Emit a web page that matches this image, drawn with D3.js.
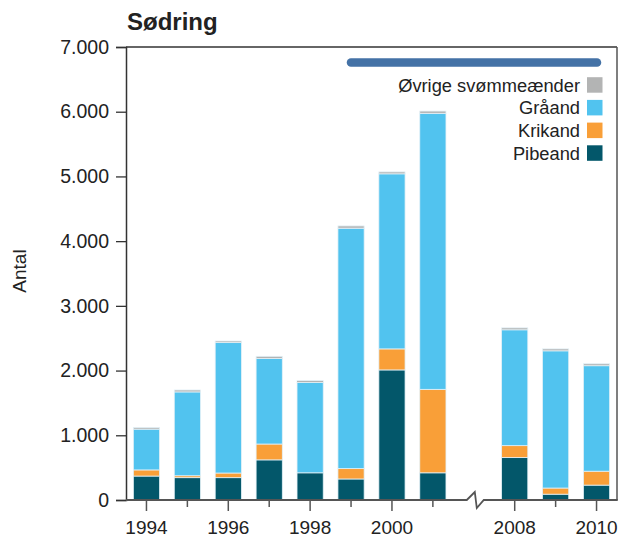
<!DOCTYPE html>
<html>
<head>
<meta charset="utf-8">
<script src="https://cdn.jsdelivr.net/npm/d3@7"></script>
<style>
  html, body { margin: 0; padding: 0; background: #fff; }
  svg { display: block; font-family: "Liberation Sans", Arial, Helvetica, sans-serif; }
</style>
</head>
<body>
<svg id="chart" width="622" height="540"></svg>
<script>
// ---- data ----
const years = ["1994","1995","1996","1997","1998","1999","2000","2001","2008","2009","2010"];
const labeledYears = ["1994","1996","1998","2000","2008","2010"];
const seriesNames = ["Pibeand","Krikand","Gråand","Øvrige svømmeænder"];
const pibeand = [370, 345, 345, 620, 420, 325, 2010, 420, 655, 90, 230];
const krikand = [95, 30, 72, 245, 0, 160, 325, 1290, 185, 95, 215];
const graaand = [630, 1295, 2015, 1320, 1395, 3715, 2705, 4265, 1790, 2120, 1630];
const oevrige = [25, 30, 25, 35, 30, 35, 30, 35, 30, 30, 30];
const yTicks = [0, 1000, 2000, 3000, 4000, 5000, 6000, 7000];
const colors = ["#03576a", "#f99f38", "#51c3ef", "#b3b4b4"];
const title = "Sødring";
const yLabel = "Antal";

// ---- layout ----
const svg = d3.select("#chart");
const mLeft = 126, mRight = 617, mTop = 47, mBottom = 500;
const slots = years.slice(0, 8).concat(["gap"]).concat(years.slice(8));

const x = d3.scaleBand().domain(slots).range([mLeft, mRight]).paddingInner(0.36).paddingOuter(0.18);
const y = d3.scaleLinear().domain([0, 7000]).range([mBottom, mTop]);

const rows = years.map((yr, i) => ({
  year: yr,
  "Pibeand": pibeand[i],
  "Krikand": krikand[i],
  "Gråand": graaand[i],
  "Øvrige svømmeænder": oevrige[i]
}));
const stacked = d3.stack().keys(seriesNames)(rows);

// bars
const g = svg.append("g");
stacked.forEach((layer, li) => {
  g.selectAll(null).data(layer).enter().append("rect")
    .attr("x", d => x(d.data.year))
    .attr("width", x.bandwidth())
    .attr("y", d => y(d[1]))
    .attr("height", d => Math.max(0, y(d[0]) - y(d[1])))
    .attr("fill", colors[li])
    .attr("stroke", "#e3f1f7")
    .attr("stroke-width", 0.8);
});

// frame: top and right
svg.append("line").attr("x1", mLeft).attr("x2", mRight).attr("y1", y(7000)).attr("y2", y(7000))
  .attr("stroke", "#333").attr("stroke-width", 1.5);
svg.append("line").attr("x1", mRight).attr("x2", mRight).attr("y1", y(7000)).attr("y2", y(0))
  .attr("stroke", "#555").attr("stroke-width", 1.5);

// y axis
const loc = d3.formatLocale({decimal: ",", thousands: ".", grouping: [3], currency: ["", " kr"]});
const fmt = loc.format(",");
const yAxis = svg.append("g").attr("transform", `translate(${mLeft},0)`)
  .call(d3.axisLeft(y).tickValues(yTicks).tickFormat(fmt).tickSize(10).tickPadding(7));
yAxis.select(".domain").attr("stroke", "#333").attr("stroke-width", 1.5);
yAxis.selectAll(".tick line").attr("stroke", "#333").attr("stroke-width", 1.3);
yAxis.selectAll(".tick text").attr("font-size", 19.5).attr("fill", "#222")
  .attr("font-family", "Liberation Sans, Arial, sans-serif");

// x axis
const xAxis = svg.append("g").attr("transform", `translate(0,${mBottom})`)
  .call(d3.axisBottom(x).tickValues(years).tickSize(11).tickPadding(10)
    .tickFormat(d => labeledYears.includes(d) ? d : ""));
xAxis.select(".domain").remove();
xAxis.selectAll(".tick line").attr("stroke", "#555").attr("stroke-width", 1.5)
  .attr("y2", d => labeledYears.includes(d) ? 11 : 7);
xAxis.selectAll(".tick text").attr("font-size", 19).attr("fill", "#222")
  .attr("font-family", "Liberation Sans, Arial, sans-serif");

// bottom axis line with break
const gc = x("gap") + x.bandwidth() / 2;
const p = d3.path();
p.moveTo(mLeft, mBottom);
p.lineTo(gc - 7, mBottom);
p.lineTo(gc + 1, mBottom - 8);
p.lineTo(gc + 3, mBottom + 8);
p.lineTo(gc + 10, mBottom);
p.lineTo(mRight + 0.75, mBottom);
svg.append("path").attr("d", p.toString()).attr("fill", "none")
  .attr("stroke", "#555").attr("stroke-width", 1.8).attr("stroke-linejoin", "miter");

// title
svg.append("text").attr("x", 127).attr("y", 30).text(title)
  .attr("font-size", 24).attr("font-weight", "bold").attr("fill", "#222");

// y label
svg.append("text").attr("transform", "translate(26,271) rotate(-90)")
  .attr("text-anchor", "middle").attr("font-size", 19).attr("fill", "#222").text(yLabel);

// blue bar
svg.append("line").attr("x1", 351).attr("x2", 597).attr("y1", 62.5).attr("y2", 62.5)
  .attr("stroke", "#4472a6").attr("stroke-width", 8.5).attr("stroke-linecap", "round");

// legend (top to bottom reverse of stack)
const legendItems = seriesNames.slice().reverse();
const legendColors = colors.slice().reverse();
legendItems.forEach((name, i) => {
  const cy = 85 + i * 22.7;
  svg.append("rect").attr("x", 587).attr("y", cy - 7.8).attr("width", 15.5).attr("height", 15.5)
    .attr("fill", legendColors[i]);
  svg.append("text").attr("x", 580).attr("y", cy + 6.5).attr("text-anchor", "end")
    .attr("font-size", 18.3).attr("fill", "#222").text(name);
});
</script>
</body>
</html>
